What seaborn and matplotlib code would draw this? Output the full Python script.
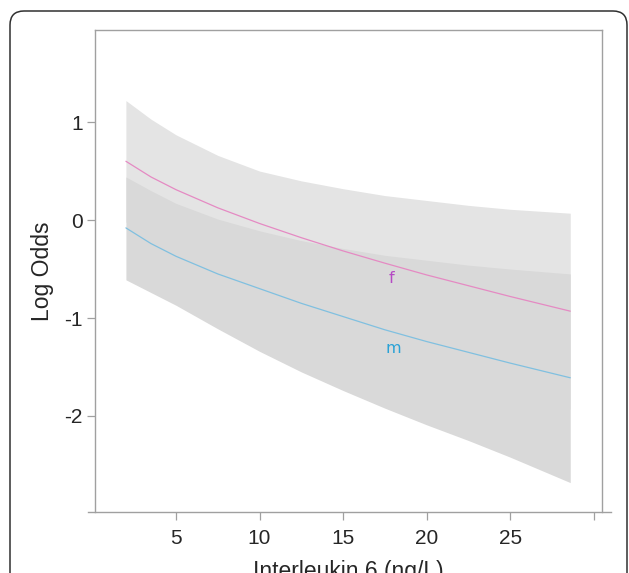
import numpy as np
import pandas as pd
import matplotlib
matplotlib.use("Agg")
import matplotlib.pyplot as plt
from matplotlib.patches import FancyBboxPatch
from matplotlib.transforms import IdentityTransform
import seaborn as sns

# ---- data ----
il6 = [2.0, 3.5, 5.0, 7.5, 10.0, 12.5, 15.0, 17.5, 20.0, 22.5, 25.0, 28.6]
f_fit = [0.60, 0.44, 0.31, 0.125, -0.035, -0.18, -0.315, -0.44, -0.56, -0.67, -0.78, -0.93]
f_upper = [1.22, 1.03, 0.87, 0.66, 0.50, 0.40, 0.32, 0.25, 0.20, 0.15, 0.11, 0.07]
f_lower = [-0.02, -0.15, -0.25, -0.41, -0.57, -0.76, -0.95, -1.13, -1.32, -1.49, -1.67, -1.93]
m_fit = [-0.08, -0.24, -0.37, -0.55, -0.70, -0.85, -0.985, -1.12, -1.24, -1.35, -1.46, -1.61]
m_upper = [0.44, 0.30, 0.17, 0.01, -0.11, -0.21, -0.29, -0.36, -0.41, -0.46, -0.50, -0.55]
m_lower = [-0.61, -0.74, -0.87, -1.11, -1.34, -1.55, -1.74, -1.92, -2.09, -2.25, -2.42, -2.68]
sex_labels = ["f", "m"]
label_pos_x = [17.9, 18.0]
label_pos_y = [-0.60, -1.31]
xticks = [5, 10, 15, 20, 25, 30]
xticklabels = ["5", "10", "15", "20", "25", ""]
yticks = [1, 0, -1, -2]

df = pd.DataFrame({
    "il6": il6 * 2,
    "logodds": f_fit + m_fit,
    "sex": ["f"] * len(il6) + ["m"] * len(il6),
})

sns.set_style("white")
plt.rcParams["font.family"] = ["Liberation Sans", "DejaVu Sans"]

fig = plt.figure(figsize=(6.29, 5.73), dpi=100)
ax = fig.add_axes([95 / 629, 1 - 512 / 573, (602 - 95) / 629, (512 - 30) / 573])

band_light = "#e4e4e4"
band_dark = "#d9d9d9"
ax.fill_between(il6, f_lower, f_upper, color=band_light, linewidth=0, zorder=1)
ax.fill_between(il6, m_lower, m_upper, color=band_dark, linewidth=0, zorder=2)

line_colors = {"f": "#e58ac3", "m": "#80c0e0"}
sns.lineplot(data=df, x="il6", y="logodds", hue="sex", palette=line_colors,
             linewidth=0.9, legend=False, ax=ax, zorder=3)

text_colors = ["#b54ac4", "#2aa2d6"]
for lab, lx, ly, c in zip(sex_labels, label_pos_x, label_pos_y, text_colors):
    ax.text(lx, ly, lab, color=c, fontsize=11.5, ha="center", va="center",
            family=["DejaVu Sans"], zorder=4)

ax.set_xlim(0.15, 30.5)
ax.set_ylim(-2.98, 1.94)
ax.set_xticks(xticks)
ax.set_xticklabels(xticklabels)
ax.set_yticks(yticks)
ax.set_yticklabels([str(v) for v in yticks])

spine_col = "#a0a0a0"
for s in ax.spines.values():
    s.set_color(spine_col)
    s.set_linewidth(1.0)
    s.set_visible(True)
ax.spines["bottom"].set_bounds(-0.27, 31.05)

ax.tick_params(axis="x", direction="out", length=6, width=0.9, color=spine_col,
               labelsize=15, pad=6, bottom=True)
ax.tick_params(axis="y", direction="out", length=6, width=0.9, color=spine_col,
               labelsize=15, pad=3, left=True)

ax.set_xlabel("Interleukin 6 (ng/L)", fontsize=16.5, labelpad=9)
ax.set_ylabel("Log Odds", fontsize=16.5, labelpad=7)
ax.grid(False)

border = FancyBboxPatch((10, -30), 617, 562 + 30, boxstyle="round,pad=0,rounding_size=14",
                        transform=IdentityTransform(), facecolor="none",
                        edgecolor="#303030", linewidth=1.1)
fig.patches.append(border)

fig.savefig("out.png", dpi=100)
